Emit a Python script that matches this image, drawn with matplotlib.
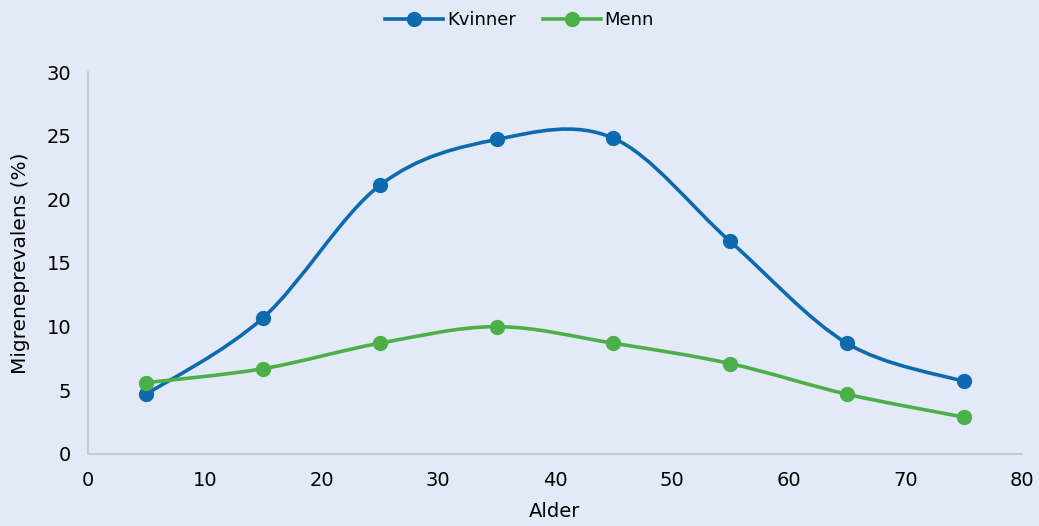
import numpy as np
import matplotlib.pyplot as plt
from matplotlib.path import Path
from matplotlib.patches import PathPatch
from matplotlib.lines import Line2D

alder = [5, 15, 25, 35, 45, 55, 65, 75]
kvinner = [4.7, 10.7, 21.1, 24.7, 24.8, 16.7, 8.7, 5.7]
menn = [5.6, 6.7, 8.7, 10.0, 8.7, 7.1, 4.7, 2.9]

bg = '#E3EAF7'
blue = '#0E6AAE'
green = '#4CAF48'

plt.rcParams['font.family'] = ['DejaVu Sans']

fig = plt.figure(figsize=(10.39, 5.26), dpi=100, facecolor=bg)
ax = fig.add_axes([0.0847, 0.1369, 0.8989, 0.7262], facecolor=bg)


def smooth_patch(xs, ys, color):
    # Excel-like smoothed line: cubic bezier through points
    pts = np.column_stack([xs, ys]).astype(float)
    verts = [pts[0]]
    codes = [Path.MOVETO]
    n = len(pts)
    for i in range(n - 1):
        p0 = pts[max(i - 1, 0)]
        p1 = pts[i]
        p2 = pts[i + 1]
        p3 = pts[min(i + 2, n - 1)]
        c1 = p1 + (p2 - p0) / 6
        c2 = p2 - (p3 - p1) / 6
        verts += [c1, c2, p2]
        codes += [Path.CURVE4] * 3
    patch = PathPatch(Path(verts, codes), facecolor='none', edgecolor=color,
                      lw=2.6, capstyle='round', joinstyle='round', zorder=2)
    ax.add_patch(patch)


smooth_patch(alder, kvinner, blue)
smooth_patch(alder, menn, green)
ax.plot(alder, kvinner, color=blue, marker='o', ms=10, linestyle='none', zorder=3)
ax.plot(alder, menn, color=green, marker='o', ms=10, linestyle='none', zorder=3)

ax.set_xlim(0, 80)
ax.set_ylim(0, 30)
ax.set_xticks(range(0, 81, 10))
ax.set_yticks(range(0, 31, 5))
ax.tick_params(length=0, pad=12, labelsize=14)
for s in ['top', 'right']:
    ax.spines[s].set_visible(False)
for s in ['left', 'bottom']:
    ax.spines[s].set_color('#C8C8C8')
    ax.spines[s].set_linewidth(1.3)
ax.set_xlabel('Alder', fontsize=14, labelpad=9)
ax.set_ylabel('Migreneprevalens (%)', fontsize=14.5, labelpad=12)

handles = [Line2D([], [], color=blue, lw=2.6, marker='o', ms=10),
           Line2D([], [], color=green, lw=2.6, marker='o', ms=10)]
fig.legend(handles, ['Kvinner', 'Menn'], loc='upper center', bbox_to_anchor=(0.5, 1.01),
           ncol=2, frameon=False, fontsize=13, handlelength=3.2, handletextpad=0.2,
           columnspacing=1.5)

fig.savefig('out.png', dpi=100, facecolor=bg)
